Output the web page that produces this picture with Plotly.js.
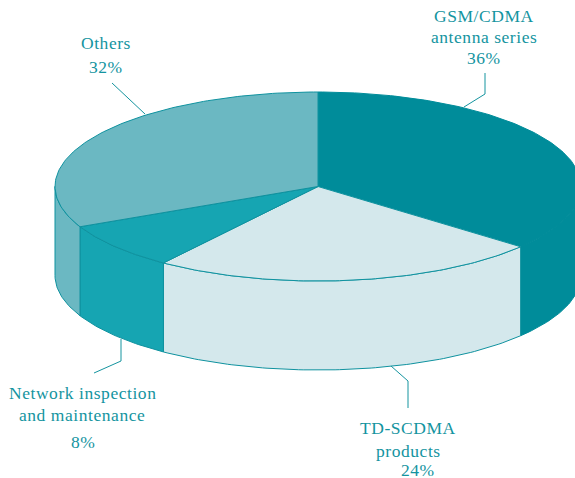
<!DOCTYPE html>
<html>
<head>
<meta charset="utf-8">
<script src="https://cdn.plot.ly/plotly-3.0.1.min.js"></script>
<style>
html,body{margin:0;padding:0;background:#fff}
.annotation-text{letter-spacing:0.55px}
</style>
</head>
<body>
<div id="chart" style="width:575px;height:478px"></div>
<script>
const categories = ["GSM/CDMA antenna series", "TD-SCDMA products", "Network inspection and maintenance", "Others"];
const shares = [36, 24, 8, 32];
const sliceColors = ["#008C9A", "#D4E8EC", "#16A5B2", "#6BB8C2"];
const edgeColors = ["#008C9A", "#0F929F", "#0F929F", "#0F929F"];
const inkColor = "#14949F";

const cx = 318, cy = 186.5, rx = 263, ry = 94.5, depth = 89;
const px = t => cx + rx * Math.sin(t * Math.PI / 180);
const py = t => cy - ry * Math.cos(t * Math.PI / 180);
function arc(a, b) {
  const n = Math.max(2, Math.ceil(Math.abs(b - a)));
  const ts = [];
  for (let i = 0; i <= n; i++) ts.push(a + (b - a) * i / n);
  return ts;
}
const traces = [];
let start = 0;
const tops = [];
shares.forEach((v, i) => {
  const end = start + v * 3.6;
  const a = Math.max(start, 90), b = Math.min(end, 270);
  if (b > a) {
    const ts = arc(a, b);
    const x = ts.map(px), y = ts.map(py);
    const rts = ts.slice().reverse();
    traces.push({
      type: "scatter", mode: "lines", fill: "toself", fillcolor: sliceColors[i],
      x: x.concat(rts.map(px), [x[0]]),
      y: y.map(q => q + depth).concat(rts.map(py), [y[0] + depth]),
      line: {color: edgeColors[i], width: 1}, hoverinfo: "skip"
    });
  }
  const ts = arc(start, end);
  tops.push({
    type: "scatter", mode: "lines", fill: "toself", fillcolor: sliceColors[i],
    x: [cx].concat(ts.map(px), [cx]),
    y: [cy].concat(ts.map(py), [cy]),
    line: {color: edgeColors[i], width: 1}, hoverinfo: "skip"
  });
  start = end;
});
traces.push(...tops);

const leaderX = [[485, 485, 464], [408, 408, 391], [94, 121, 121], [112, 145]];
const leaderY = [[73, 94, 107], [408, 381, 366], [373, 361, 339], [83, 114]];
leaderX.forEach((x, i) => traces.push({
  type: "scatter", mode: "lines", x: x, y: leaderY[i],
  line: {color: inkColor, width: 1}, hoverinfo: "skip"
}));

const labelText = ["GSM/CDMA", "antenna series", "36%", "TD-SCDMA", "products", "24%",
  "Network inspection", "and maintenance", "8%", "Others", "32%"];
const labelX = [484, 484, 484, 408, 408, 418, 82, 82, 83, 106, 106];
const labelY = [16, 37, 58, 428, 451, 470, 393, 415, 442, 43, 67];
const annotations = labelText.map((t, i) => ({
  text: t, x: labelX[i], y: labelY[i], xref: "x", yref: "y",
  showarrow: false, xanchor: "center", yanchor: "middle",
  font: {family: "Liberation Serif", size: 17.5, color: inkColor}
}));

Plotly.newPlot("chart", traces, {
  width: 575, height: 478, margin: {l: 0, r: 0, t: 0, b: 0},
  paper_bgcolor: "#fff", plot_bgcolor: "#fff", showlegend: false,
  xaxis: {range: [0, 575], visible: false, fixedrange: true},
  yaxis: {range: [478, 0], visible: false, fixedrange: true},
  annotations: annotations
}, {displayModeBar: false, staticPlot: true});
</script>
</body>
</html>
